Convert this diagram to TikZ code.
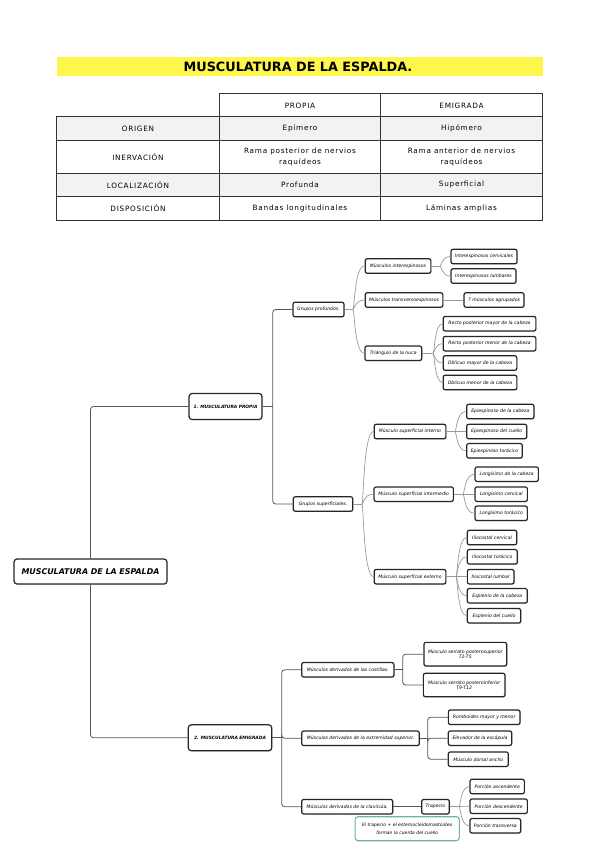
\documentclass[tikz,border=0pt]{standalone}
\usepackage{fontspec}
\setmainfont{DejaVu Sans}
\newfontfamily\tablefont[LetterSpace=10]{DejaVu Sans}
\usetikzlibrary{shadows,calc}
\definecolor{tealc}{HTML}{6FB3A3}
\definecolor{rowgray}{HTML}{F2F2F2}
\definecolor{linedark}{HTML}{555555}
\definecolor{linelight}{HTML}{9A9A9A}
\newcommand{\fanout}[3]{% parent, junction, list of children
  \draw[curv] (#1.east) -- (#2);
  \foreach \c in {#3} {
    \draw[curv] (#2) .. controls ($(#2)+(1.5,0)$) and ($(#2 |- \c.west)+(1.5,0)$) .. (\c.west);
  }
}
\begin{document}
\begin{tikzpicture}[x=1pt,y=-1pt,
  box/.style={draw=black!85, line width=1.2pt, rounded corners=2pt, fill=white, inner sep=0.3pt,
    align=center, minimum height=14.5pt, font=\fontsize{4.6}{5.6}\selectfont\itshape,
    drop shadow={shadow xshift=0.7pt, shadow yshift=-0.7pt, opacity=0.3}},
  topbox/.style={box, minimum height=26pt, rounded corners=3pt, font=\fontsize{4.4}{5}\selectfont\bfseries\itshape},
  rootbox/.style={box, minimum height=25pt, rounded corners=3pt, font=\fontsize{7.9}{8.5}\selectfont\bfseries\itshape},
  note/.style={draw=tealc, line width=1.1pt, rounded corners=3pt, fill=white, align=center,
    inner sep=0.3pt, font=\fontsize{4.5}{8}\selectfont\itshape},
  trunk/.style={draw=linedark, line width=0.8pt, rounded corners=3pt},
  curv/.style={draw=linelight, line width=0.7pt},
  cell/.style={font=\tablefont\fontsize{7.3}{10.5}\selectfont, align=center},
  tline/.style={draw=black!80, line width=0.9pt}
]
\useasboundingbox (0,0) rectangle (599,848);

% ---------------- title ----------------
\fill[yellow!70!white] (57,57) rectangle (543,76.5);
\node[font=\fontsize{12.8}{14}\selectfont\bfseries] (title) at (298,67) {MUSCULATURA DE LA ESPALDA.};

% ---------------- table ----------------
\fill[rowgray] (56.7,116.7) rectangle (542.7,140);
\fill[rowgray] (56.7,173.3) rectangle (542.7,196);
\draw[tline] (219,93.3) rectangle (542.7,116.7);
\draw[tline] (56.7,116.7) rectangle (542.7,220);
\draw[tline] (56.7,140) -- (542.7,140);
\draw[tline] (56.7,173.3) -- (542.7,173.3);
\draw[tline] (56.7,196) -- (542.7,196);
\draw[tline] (219,93.3) -- (219,220);
\draw[tline] (380.7,93.3) -- (380.7,220);

\node[cell] (h1) at (300,105.5) {PROPIA};
\node[cell] (h2) at (461.5,105.5) {EMIGRADA};
\node[cell] (r1a) at (138,128.4) {ORIGEN};
\node[cell] (r1b) at (300,128.4) {Epímero};
\node[cell] (r1c) at (461.5,128.4) {Hipómero};
\node[cell] (r2a) at (138,157) {INERVACIÓN};
\node[cell] (r2b) at (300,157) {Rama posterior de nervios\\raquídeos};
\node[cell] (r2c) at (461.5,157) {Rama anterior de nervios\\raquídeos};
\node[cell] (r3a) at (138,184.7) {LOCALIZACIÓN};
\node[cell] (r3b) at (300,184.7) {Profunda};
\node[cell] (r3c) at (461.5,184.7) {Superficial};
\node[cell] (r4a) at (138,208) {DISPOSICIÓN};
\node[cell] (r4b) at (300,208) {Bandas longitudinales};
\node[cell] (r4c) at (461.5,208) {Láminas amplias};

% ---------------- mind map nodes ----------------
\node[rootbox, minimum width=153pt] (root) at (90.5,571.5) {MUSCULATURA DE LA ESPALDA};
\node[topbox, minimum width=73pt] (n1) at (225.5,406.5) {1. MUSCULATURA PROPIA};
\node[topbox, minimum width=83.4pt] (n2) at (230,737.8) {2. MUSCULATURA EMIGRADA};

\node[box, minimum width=51pt] (gp) at (318.5,309.5) {Grupos profundos.};
\node[box, minimum width=59.4pt] (gs) at (323,504) {Grupos superficiales.};

\node[box, minimum width=65.7pt] (mi) at (398,266) {Músculos interespinosos};
\node[box, minimum width=66pt] (ic) at (484,256.5) {Interespinosos cervicales};
\node[box, minimum width=65pt] (il) at (483.5,276) {Interespinosos lumbares};
\node[box, minimum width=77.7pt] (mt) at (404,300) {Músculos transversoespinosos};
\node[box, minimum width=60pt] (ma) at (494,300) {7 músculos agrupados};
\node[box, minimum width=56.7pt] (tn) at (393.3,353.3) {Triángulo de la nuca};
\node[box, minimum width=92.7pt] (rma) at (489.5,323.7) {Recto posterior mayor de la cabeza};
\node[box, minimum width=92.7pt] (rme) at (489.5,343.7) {Recto posterior menor de la cabeza};
\node[box, minimum width=73.7pt] (oma) at (480,363) {Oblicuo mayor de la cabeza};
\node[box, minimum width=73.7pt] (ome) at (480,382.5) {Oblicuo menor de la cabeza};

\node[box, minimum width=71.7pt] (msi) at (410,431.5) {Músculo superficial interno};
\node[box, minimum width=67.3pt] (ec) at (500.3,411.5) {Epiespinoso de la cabeza};
\node[box, minimum width=60pt] (ecu) at (496.7,431.5) {Epiespinoso del cuello};
\node[box, minimum width=55.6pt] (et) at (494.5,450.8) {Epiespinoso torácico};
\node[box, minimum width=79.3pt] (msm) at (413.7,494.2) {Músculo superficial intermedio};
\node[box, minimum width=63.3pt] (lc) at (506.7,474.2) {Longísimo de la cabeza};
\node[box, minimum width=52.3pt] (lce) at (501.2,494.2) {Longísimo cervical};
\node[box, minimum width=52.3pt] (lt) at (501.2,513.3) {Longísimo torácico};
\node[box, minimum width=71.7pt] (mse) at (410,576.7) {Músculo superficial externo};
\node[box, minimum width=49.4pt] (icc) at (492,537.5) {Iliocostal cervical};
\node[box, minimum width=50pt] (ict) at (492.3,556.8) {Iliocostal torácico};
\node[box, minimum width=46.7pt] (icl) at (490.7,576.7) {Iliocostal lumbar};
\node[box, minimum width=60pt] (esc) at (497.3,595.8) {Esplenio de la cabeza};
\node[box, minimum width=53.4pt] (escu) at (494,615.8) {Esplenio del cuello};

\node[box, minimum width=92.3pt] (dc) at (347.8,669.8) {Músculos derivados de las costillas.};
\node[box, minimum width=117.6pt] (de) at (360.5,738.3) {Músculos derivados de la extremidad superior.};
\node[box, minimum width=91pt] (dcl) at (347.2,806.7) {Músculos derivados de la clavícula.};
\node[box, minimum width=82.7pt, minimum height=23.7pt] (sps) at (465.3,654.2) {Músculo serrato posterosuperior\\T2-T5};
\node[box, minimum width=81.7pt, minimum height=23.4pt] (spi) at (464.2,685) {Músculo serrato posteroinferior\\T9-T12};
\node[box, minimum width=71.7pt] (rom) at (484.2,717.2) {Romboides mayor y menor};
\node[box, minimum width=63.4pt] (eles) at (480,738.2) {Elevador de la escápula};
\node[box, minimum width=60pt] (mda) at (478.3,759.2) {Músculo dorsal ancho};
\node[box, minimum width=27.6pt] (tra) at (435.5,806.7) {Trapecio};
\node[box, minimum width=54.3pt] (pa) at (497.2,786.5) {Porción ascendente};
\node[box, minimum width=57.3pt] (pd) at (498.7,806.2) {Porción descendente};
\node[box, minimum width=50.7pt] (pt) at (495.3,825.8) {Porción transversa};
\node[note, minimum width=104.3pt, minimum height=24pt] (nota) at (407.2,828.7) {El trapecio + el esternocleidomastoideo\\forman la cuerda del cuello};

% ---------------- orthogonal connectors ----------------
\draw[trunk] (root.north) |- (n1.west);
\draw[trunk] (root.south) |- (n2.west);

\coordinate (j1) at (272.7,406.5);
\draw[trunk, rounded corners=0pt] (n1.east) -- (j1);
\draw[trunk] (j1) |- (gp.west);
\draw[trunk] (j1) |- (gs.west);

\coordinate (j2) at (281.7,737.8);
\draw[trunk, rounded corners=0pt] (n2.east) -- (j2);
\draw[trunk] (j2) |- (dc.west);
\draw[trunk] (j2) |- (de.west);
\draw[trunk] (j2) |- (dcl.west);

\coordinate (j3) at (402.7,669.8);
\draw[trunk, rounded corners=0pt] (dc.east) -- (j3);
\draw[trunk] (j3) |- (sps.west);
\draw[trunk] (j3) |- (spi.west);

\coordinate (j4) at (427.7,738.3);
\draw[trunk, rounded corners=0pt] (de.east) -- (j4);
\draw[trunk] (j4) |- (rom.west);
\draw[trunk] (j4) |- (eles.west);
\draw[trunk] (j4) |- (mda.west);

\draw[trunk] (dcl.east) -- (tra.west);

% ---------------- curved connectors ----------------
\coordinate (k1) at (353,309.5);
\fanout{gp}{k1}{mi,mt,tn}
\coordinate (k2) at (440,266);
\fanout{mi}{k2}{ic,il}
\draw[curv] (mt.east) -- (ma.west);
\coordinate (k3) at (433,353.3);
\fanout{tn}{k3}{rma,rme,oma,ome}
\coordinate (k4) at (362,504);
\fanout{gs}{k4}{msi,msm,mse}
\coordinate (k5) at (455,431.5);
\fanout{msi}{k5}{ec,ecu,et}
\coordinate (k6) at (463,494.2);
\fanout{msm}{k6}{lc,lce,lt}
\coordinate (k7) at (456,576.7);
\fanout{mse}{k7}{icc,ict,icl,esc,escu}
\coordinate (k8) at (459,806.7);
\fanout{tra}{k8}{pa,pd,pt}
\end{tikzpicture}
\end{document}
